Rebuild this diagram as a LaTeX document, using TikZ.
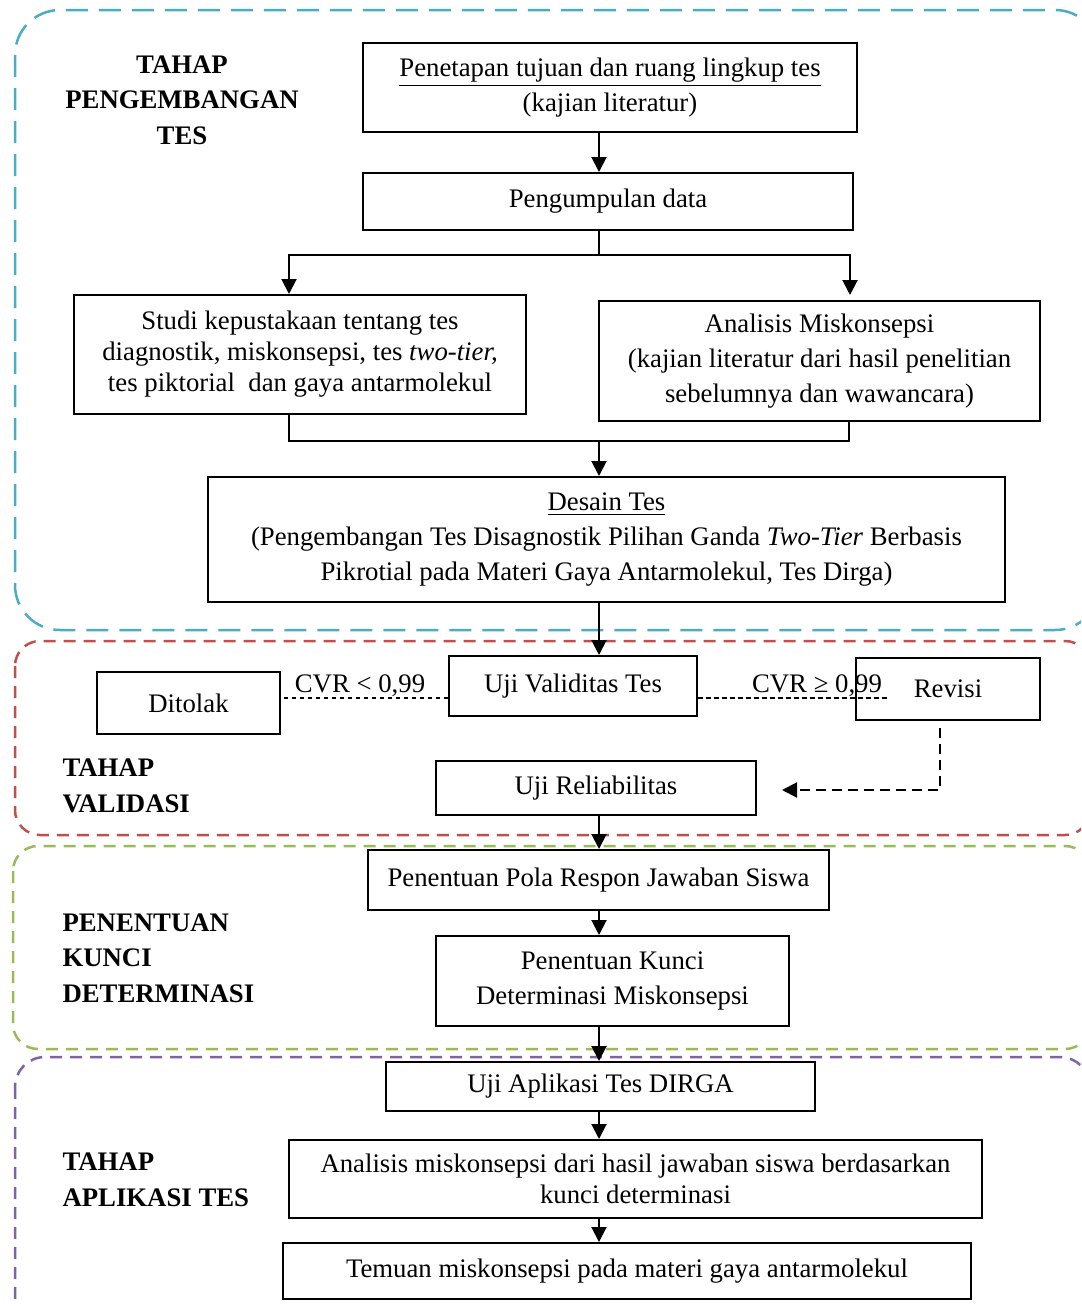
\documentclass[tikz,border=0pt]{standalone}
\usepackage{fontspec}
\setmainfont{Liberation Serif}
\usetikzlibrary{arrows.meta, positioning}

\definecolor{frameblue}{HTML}{4BACC6}
\definecolor{framered}{HTML}{C0504D}
\definecolor{framegreen}{HTML}{9BBB59}
\definecolor{framepurple}{HTML}{8064A2}

\tikzset{
	box/.style = {draw, line width=0.8pt, inner sep=0pt, align=center,
		font=\fontsize{10.7}{14}\selectfont},
	phase/.style = {inner sep=0pt, font=\fontsize{10.7}{14.2}\selectfont\bfseries},
	cvr/.style = {inner sep=0pt, font=\fontsize{10.7}{14}\selectfont},
	arr/.style = {line width=0.8pt, -{Triangle[width=6pt,length=6pt]}},
	plain/.style = {line width=0.8pt},
	dline/.style = {line width=0.55pt, dash pattern=on 1.8pt off 1.4pt},
	dashArr/.style = {line width=0.8pt, dash pattern=on 4pt off 2.4pt,
		-{Triangle[width=6pt,length=6pt]}},
	frame/.style = {line width=1pt}
}

\begin{document}
\begin{tikzpicture}[x=0.4pt, y=-0.4pt]
	\clip (0,0) rectangle (1081,1306);
	
	% stage frames
	\draw[frame, frameblue, dash pattern=on 8.8pt off 4.4pt, rounded corners=18pt] (15,10) rectangle (1100,630);
	\draw[frame, framered, dash pattern=on 4.8pt off 3.2pt, rounded corners=10pt] (15,641) rectangle (1090,835);
	\draw[frame, framegreen, dash pattern=on 4.8pt off 3.2pt, rounded corners=10pt] (13,846) rectangle (1090,1049);
	\draw[frame, framepurple, dash pattern=on 4.8pt off 3.2pt, rounded corners=12pt] (15,1057) rectangle (1090,1330);
	
	% stage labels
	\node[phase, align=center] (lblDev) at (182,100) {TAHAP\\PENGEMBANGAN\\TES};
	\node[phase, align=left, anchor=west] (lblVal) at (62,786) {TAHAP\\VALIDASI};
	\node[phase, align=left, anchor=west] (lblKey) at (62,958) {PENENTUAN\\KUNCI\\DETERMINASI};
	\node[phase, align=left, anchor=west] (lblApp) at (62,1180) {TAHAP\\APLIKASI TES};
	
	% boxes
	\node[box, minimum width=197.6pt, minimum height=35.6pt] (tujuan) at (610,87.5)
		{\underline{Penetapan tujuan dan ruang lingkup tes}\\(kajian literatur)};
	\node[box, minimum width=196pt, minimum height=22.8pt] (kumpul) at (608,201.5) {Pengumpulan data};
	\node[box, minimum width=180.8pt, minimum height=47.6pt, font=\fontsize{10.7}{12.4}\selectfont] (studi) at (300,354.5)
		{Studi kepustakaan tentang tes\\diagnostik, miskonsepsi, tes \textit{two-tier,}\\tes piktorial\ \ dan gaya antarmolekul};
	\node[box, minimum width=176.4pt, minimum height=48pt] (analisis) at (819.5,361)
		{Analisis Miskonsepsi\\(kajian literatur dari hasil penelitian\\sebelumnya dan wawancara)};
	\node[box, minimum width=318.8pt, minimum height=50pt] (desain) at (606.5,539.5)
		{\underline{Desain Tes}\\(Pengembangan Tes Disagnostik Pilihan Ganda \textit{Two-Tier} Berbasis\\Pikrotial pada Materi Gaya Antarmolekul, Tes Dirga)};
	\node[box, minimum width=99.2pt, minimum height=24pt] (validitas) at (573,686) {Uji Validitas Tes};
	\node[box, minimum width=73.2pt, minimum height=24.8pt] (ditolak) at (188.5,703) {Ditolak};
	\node[box, minimum width=73.6pt, minimum height=24.8pt] (revisi) at (948,689) {Revisi};
	\node[box, minimum width=128pt, minimum height=21.6pt] (reliabel) at (596,788) {Uji Reliabilitas};
	\node[box, minimum width=184.4pt, minimum height=24pt] (pola) at (598.5,880) {Penentuan Pola Respon Jawaban Siswa};
	\node[box, minimum width=141.2pt, minimum height=36pt] (kunci) at (612.5,981)
		{Penentuan Kunci\\Determinasi Miskonsepsi};
	\node[box, minimum width=171.6pt, minimum height=19.6pt] (aplikasi) at (600.5,1086.5) {Uji Aplikasi Tes DIRGA};
	\node[box, minimum width=277.2pt, minimum height=31.2pt, font=\fontsize{10.7}{12.4}\selectfont] (hasil) at (635.5,1179)
		{Analisis miskonsepsi dari hasil jawaban siswa berdasarkan\\kunci determinasi};
	\node[box, minimum width=275.2pt, minimum height=22.4pt] (temuan) at (627,1271)
		{Temuan miskonsepsi pada materi gaya antarmolekul};
	
	% CVR labels
	\node[cvr] (cvrNo) at (360,686) {CVR < 0,99};
	\node[cvr] (cvrYes) at (817,686) {CVR ≥ 0,99};
	
	% helper points
	\coordinate (axis) at (599,0);
	\coordinate (split) at (599,255);
	\coordinate (splitL) at (289,255);
	\coordinate (splitR) at (850,255);
	\coordinate (endR) at (850,295);
	\coordinate (joinL) at (289,441);
	\coordinate (join) at (599,441);
	\coordinate (joinR) at (849,441);
	\coordinate (cvrLine) at (0,698);
	\coordinate (cvrEnd) at (890,698);
	\coordinate (revStart) at (940,728);
	\coordinate (revTip) at (782,790);
	
	% connectors
	\draw[arr] (tujuan.south -| axis) -- (kumpul.north -| axis);
	\draw[plain] (kumpul.south -| axis) -- (split);
	\draw[arr] (split) -- (splitL) -- (studi.north -| splitL);
	\draw[arr] (split) -- (splitR) -- (endR);
	\draw[plain] (studi.south -| joinL) -- (joinL) -- (joinR) -- (analisis.south -| joinR);
	\draw[arr] (join) -- (desain.north -| axis);
	\draw[arr] (desain.south -| axis) -- (validitas.north -| axis);
	\draw[dline] (validitas.west |- cvrLine) -- (ditolak.east |- cvrLine);
	\draw[dline] (validitas.east |- cvrLine) -- (cvrEnd);
	\draw[dashArr] (revStart) |- (revTip);
	\draw[arr] (reliabel.south -| axis) -- (pola.north -| axis);
	\draw[arr] (pola.south -| axis) -- (kunci.north -| axis);
	\draw[arr] (kunci.south -| axis) -- (aplikasi.north -| axis);
	\draw[arr] (aplikasi.south -| axis) -- (hasil.north -| axis);
	\draw[arr] (hasil.south -| axis) -- (temuan.north -| axis);
\end{tikzpicture}
\end{document}
